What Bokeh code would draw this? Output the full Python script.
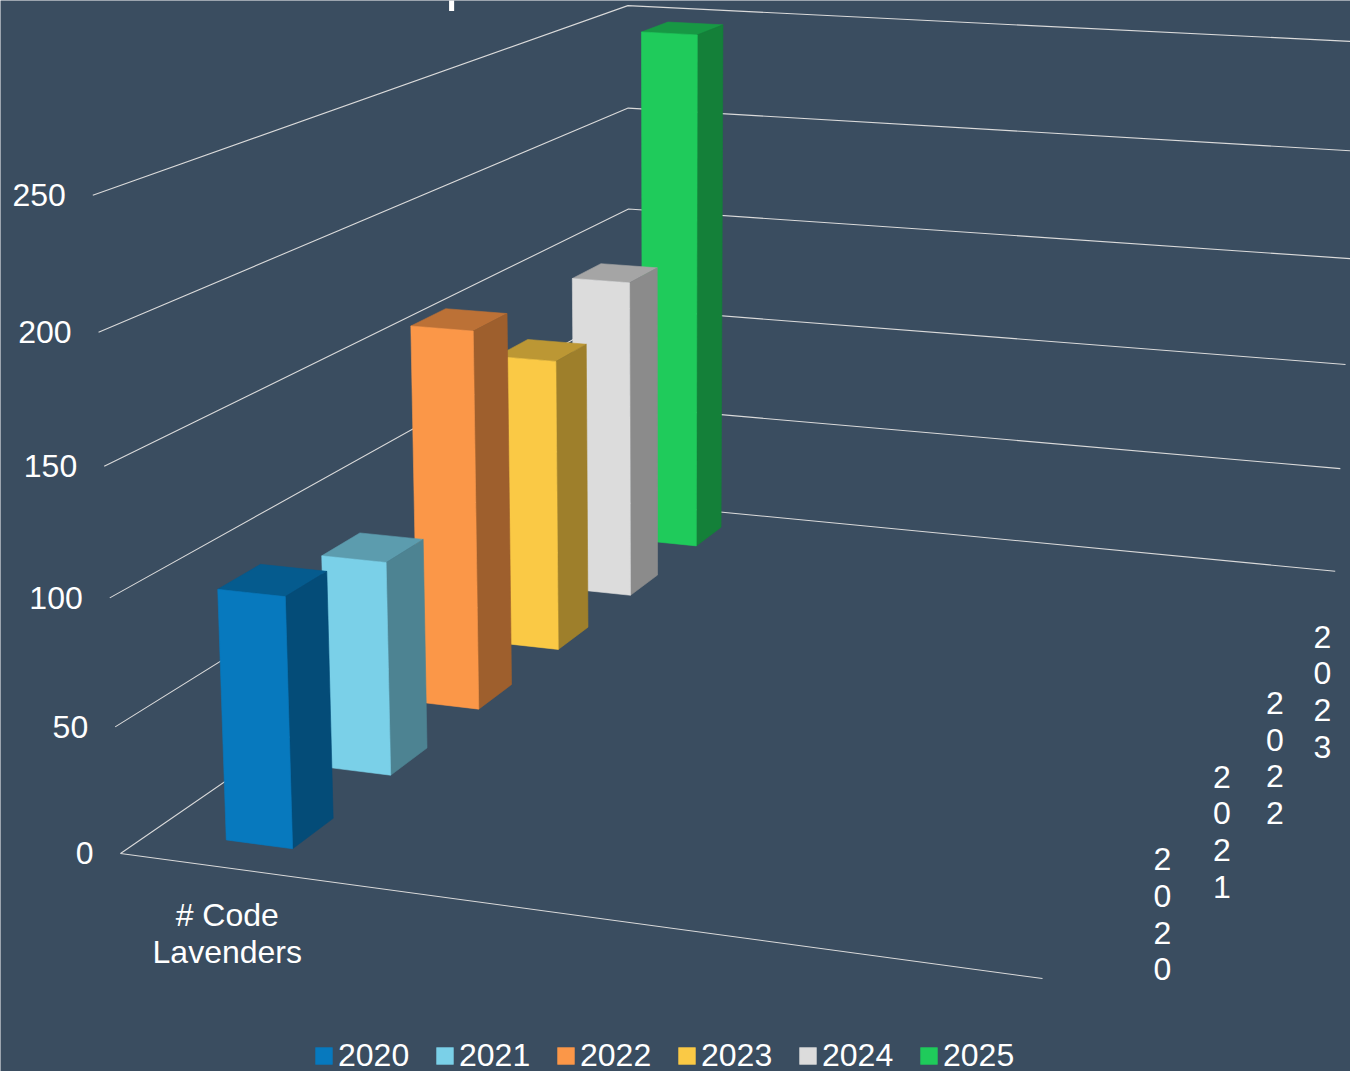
import numpy as np
from bokeh.plotting import figure
from bokeh.models import ColumnDataSource, Legend, LegendItem, Range1d
from bokeh.core.properties import value
from bokeh.embed import file_html
from bokeh.resources import INLINE

# ---- data ----
years = ["2020", "2021", "2022", "2023", "2024", "2025"]
code_lavenders = [99, 88, 162, 130, 147, 247]
category = "# Code\nLavenders"
value_ticks = [0, 50, 100, 150, 200, 250]
title_text = "Comparison Over the Years"
colors = ["#0779BE", "#7AD0E8", "#FB9748", "#FAC945", "#DCDCDC", "#1FCB5B"]

BG = "#3A4D60"
GRID = "#DADADA"
FONT = value("Liberation Sans")
VMAX = 250.0

# ---- camera: (across, value fraction, depth) -> page pixels ----
calib = [
    (0, 0, 0, 121, 853), (1, 0, 0, 1042, 978), (1, 0, 1, 1335, 571), (0, 0, 1, 628, 503),
    (0, 1, 0, 92, 195), (0, 1, 1, 628, 6), (1, 1, 1, 1361, 41.5),
    (0, .2, 0, 115, 726), (0, .4, 0, 109, 598), (0, .6, 0, 103, 466), (0, .8, 0, 98, 331),
    (1, .2, 1, 1340, 468), (1, .4, 1, 1345, 364), (1, .6, 1, 1350, 258),
    (0, .8, 1, 628, 107), (0, .6, 1, 628, 208),
]
A, B = [], []
for u, t, v, X, Y in calib:
    A.append([u, t, v, 1, 0, 0, 0, 0, -X * u, -X * t, -X * v])
    A.append([0, 0, 0, 0, u, t, v, 1, -Y * u, -Y * t, -Y * v])
    B += [X, Y]
M = np.append(np.linalg.lstsq(np.array(A, float), np.array(B, float), rcond=None)[0], 1.0).reshape(3, 4)


def project(u, val, v):
    q = M @ np.array([u, val / VMAX, v, 1.0])
    return q[0] / q[2], q[1] / q[2]


def poly(corners):
    pts = [project(*c) for c in corners]
    return [p[0] for p in pts], [p[1] for p in pts]


def shade(hex_color, f):
    r, g, b = (int(hex_color[i:i + 2], 16) for i in (1, 3, 5))
    return "#%02X%02X%02X" % (round(r * f), round(g * f), round(b * f))


p = figure(width=1350, height=1071, output_backend="svg", toolbar_location=None,
           x_range=Range1d(0, 1350), y_range=Range1d(1071, 0),
           min_border=0, outline_line_color=None,
           background_fill_color=BG, border_fill_color=BG)
p.axis.visible = False
p.grid.visible = False

# ---- walls and floor ----
gx, gy = [], []
for t in value_ticks:
    x, y = poly([(0, t, 0), (0, t, 1), (1, t, 1)])
    gx.append(x)
    gy.append(y)
x, y = poly([(0, 0, 0), (1, 0, 0)])
gx.append(x)
gy.append(y)
p.multi_line(gx, gy, line_color=GRID, line_width=1.1)

# ---- bars, back to front ----
U0, U1 = 0.086, 0.164
SLOT = 1.0 / len(years)
GAP, DEPTH = 0.3 * SLOT, 0.4 * SLOT
front_renderers = {}
for i in reversed(range(len(years))):
    val, col = code_lavenders[i], colors[i]
    v0 = i * SLOT + GAP
    v1 = v0 + DEPTH
    faces = [
        ([(U0, val, v0), (U1, val, v0), (U1, val, v1), (U0, val, v1)], shade(col, 0.75)),
        ([(U1, 0, v0), (U1, val, v0), (U1, val, v1), (U1, 0, v1)], shade(col, 0.63)),
    ]
    for corners, c in faces:
        x, y = poly(corners)
        p.patch(x, y, fill_color=c, line_color=c, line_width=0.6)
    x, y = poly([(U0, 0, v0), (U1, 0, v0), (U1, val, v0), (U0, val, v0)])
    front_renderers[i] = p.patch(x, y, fill_color=col, line_color=col, line_width=0.6)

# ---- texts ----
TXT = dict(text_color="white", text_font=FONT, text_font_size="32px")
tx, ty = zip(*[project(0, t, 0) for t in value_ticks])
p.text(list(tx), list(ty), text=[str(t) for t in value_ticks], x_offset=-27,
       text_align="right", text_baseline="middle", **TXT)

cx, cy = project((U0 + U1) / 2, 0, 0)
p.text([cx], [cy], text=[category], y_offset=65.5, text_align="center", text_baseline="middle",
       text_line_height=1.02, **TXT)

dx, dy = zip(*[project(1, 0, (i + 0.5) * SLOT) for i in range(len(years))])
p.text(list(dx), list(dy), text=["\n".join(y) for y in years], x_offset=87.5, y_offset=-19,
       text_align="center", text_baseline="middle", text_line_height=1.02, **TXT)

p.text([675], [0], text=[title_text], y_offset=-21.5, text_align="center", text_baseline="alphabetic",
       text_color="white", text_font=FONT, text_font_size="57px")

legend = Legend(items=[LegendItem(label=years[i], renderers=[front_renderers[i]]) for i in range(len(years))],
                orientation="horizontal", location=(313, -3), padding=0, margin=0, spacing=24,
                glyph_width=21, glyph_height=21, label_standoff=4, label_width=72,
                label_text_color="white", label_text_font="Liberation Sans", label_text_font_size="32px",
                background_fill_alpha=0, border_line_color=None)
p.add_layout(legend, "center")

open("out.html", "w").write(file_html(p, INLINE))
